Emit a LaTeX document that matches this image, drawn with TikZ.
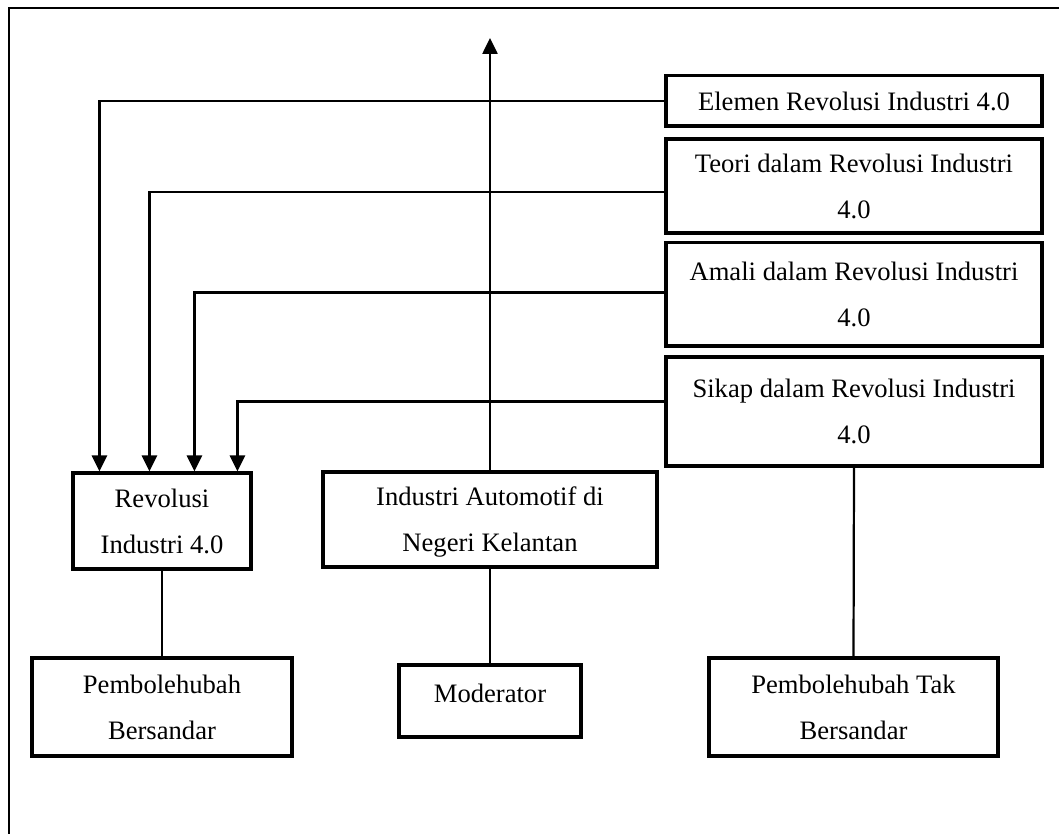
\documentclass[tikz,border=0pt]{standalone}
\usepackage{fontspec}
\setmainfont{Liberation Serif}
\usetikzlibrary{arrows.meta,calc}

\begin{document}
\begin{tikzpicture}[x=0.451pt,y=-0.451pt,
  box/.style={draw,line width=1.4pt,align=center,inner sep=0pt,font=\fontsize{12}{20.75}\selectfont},
  conn/.style={line width=1pt},
  arr/.style={conn,-{Triangle[length=7.2pt,width=6.8pt]}}]
\useasboundingbox (0,0) rectangle (1059,834);
% frame
\draw[line width=1pt] (9,834) -- (9,8) -- (1059,8);
% right column
\node[box,minimum width=169.6pt,minimum height=22.6pt] (elemen) at (854,101) {Elemen Revolusi Industri 4.0};
\node[box,minimum width=169.6pt,minimum height=42.4pt] (teori) at (854,186) {Teori dalam Revolusi Industri\\4.0};
\node[box,minimum width=169.6pt,minimum height=46.5pt] (amali) at (854,294.5) {Amali dalam Revolusi Industri\\4.0};
\node[box,minimum width=169.6pt,minimum height=49.2pt] (sikap) at (854,411.5) {Sikap dalam Revolusi Industri\\4.0};
% middle row
\node[box,minimum width=80.3pt,minimum height=43.3pt] (rev) at (162,521) {Revolusi\\Industri 4.0};
\node[box,minimum width=150.6pt,minimum height=42.8pt,text depth=0pt] (auto) at (490,519.5) {Industri Automotif di\\Negeri Kelantan};
% bottom row
\node[box,minimum width=117.3pt,minimum height=44.2pt] (pb) at (162,707) {Pembolehubah\\Bersandar};
\node[box,minimum width=82.1pt,minimum height=32.5pt,text depth=7pt] (mod) at (490,701) {Moderator};
\node[box,minimum width=130.3pt,minimum height=44.2pt] (ptb) at (853.5,707) {Pembolehubah Tak\\Bersandar};
\coordinate (top) at (490,38);
% connectors
\draw[arr] (elemen.west) -| ($(rev.north west)+(28,0)$);
\draw[arr] ($(teori.west)+(0,6)$) -| ($(rev.north west)+(78,0)$);
\draw[arr] ($(amali.west)+(0,-2)$) -| ($(rev.north west)+(123,0)$);
\draw[arr] ($(sikap.west)+(0,-10)$) -| ($(rev.north west)+(166,0)$);
\draw[arr] (auto.north) -- (top);
\draw[conn] (rev.south) -- (pb.north);
\draw[conn] (auto.south) -- (mod.north);
\draw[conn] (sikap.south) -- (ptb.north);
\end{tikzpicture}
\end{document}
